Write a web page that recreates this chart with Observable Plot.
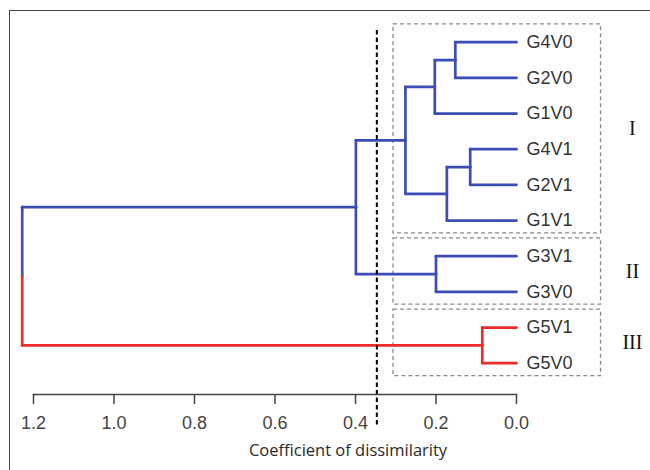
<!DOCTYPE html>
<html>
<head>
<meta charset="utf-8">
<script src="https://cdn.jsdelivr.net/npm/d3@7"></script>
<script src="https://cdn.jsdelivr.net/npm/@observablehq/plot@0.6"></script>
<style>
  html, body { margin: 0; padding: 0; background: #fff; }
  #wrap { position: relative; width: 650px; height: 470px; overflow: hidden; }
  #border { position: absolute; left: 9px; top: 10px; width: 700px; height: 500px;
            border-left: 1.5px solid #444; border-top: 1.5px solid #444; }
  #chart { position: absolute; left: 0; top: 0; }
</style>
</head>
<body>
<div id="wrap"><div id="border"></div><div id="chart"></div></div>
<script>
// ---- data ----
const leaves = ["G4V0", "G2V0", "G1V0", "G4V1", "G2V1", "G1V1", "G3V1", "G3V0", "G5V1", "G5V0"];
// agglomeration steps: mergeA + mergeB joined at mergeHeight (m# = result of step #)
const mergeA = ["G4V0", "m1", "G4V1", "m3", "m2", "G3V1", "m5", "G5V1", "m7"];
const mergeB = ["G2V0", "G1V0", "G2V1", "G1V1", "m4", "G3V0", "m6", "G5V0", "m8"];
const mergeHeight = [0.152, 0.203, 0.115, 0.173, 0.276, 0.200, 0.399, 0.085, 1.228];
const clusters = ["I", "II", "III"];
const clusterFirst = ["G4V0", "G3V1", "G5V1"];
const clusterLast = ["G1V1", "G3V0", "G5V0"];
const clusterBranch = ["A", "A", "B"];
const cutHeight = [0.347];
const xTicks = [1.2, 1.0, 0.8, 0.6, 0.4, 0.2, 0.0];
const xTitle = ["Coefficient of dissimilarity"];

// ---- build tree geometry ----
const nodes = new Map();
leaves.forEach((name, i) => {
  const c = clusters.findIndex((_, k) => i >= leaves.indexOf(clusterFirst[k]) && i <= leaves.indexOf(clusterLast[k]));
  nodes.set(name, {y: i, h: 0, g: clusterBranch[c]});
});
const segs = [];
mergeA.forEach((an, i) => {
  const a = nodes.get(an), b = nodes.get(mergeB[i]);
  const h = mergeHeight[i], y = (a.y + b.y) / 2;
  segs.push({x1: a.h, x2: h, y1: a.y, y2: a.y, g: a.g});
  segs.push({x1: b.h, x2: h, y1: b.y, y2: b.y, g: b.g});
  segs.push({x1: h, x2: h, y1: a.y, y2: y, g: a.g});
  segs.push({x1: h, x2: h, y1: y, y2: b.y, g: b.g});
  nodes.set("m" + (i + 1), {y, h, g: a.g === b.g ? a.g : null});
});
const boxes = clusters.map((c, k) => ({
  name: c,
  first: leaves.indexOf(clusterFirst[k]),
  last: leaves.indexOf(clusterLast[k])
}));

const chart = Plot.plot({
  width: 650,
  height: 470,
  marginLeft: 33,
  marginRight: 134,
  marginTop: 20,
  marginBottom: 76,
  style: {background: "transparent"},
  x: {domain: [1.2, 0], axis: null},
  y: {domain: [0, 9], range: [41.7, 362.7], axis: null},
  color: {domain: ["A", "B"], range: ["#3c4db5", "#ee2b2b"]},
  marks: [
    Plot.rect(boxes, {
      x1: () => 0.3056, x2: () => -0.21,
      y1: d => d.first - 0.5, y2: d => d.last + 0.36,
      fill: "none", stroke: "#8a8a8a", strokeWidth: 1.3, strokeDasharray: "4,3"
    }),
    Plot.link(segs, {
      x1: "x1", x2: "x2", y1: "y1", y2: "y2", stroke: "g",
      strokeWidth: 2.7, strokeLinecap: "round"
    }),
    Plot.ruleX(cutHeight, {
      y1: () => -0.33, y2: () => 10.75,
      stroke: "#000", strokeWidth: 2, strokeDasharray: "4.5,3"
    }),
    Plot.text(leaves, {
      x: () => 0, y: (d, i) => i, text: d => d, dx: 10,
      textAnchor: "start", lineAnchor: "middle",
      fontSize: 18, fontFamily: "Liberation Sans, Arial, sans-serif", fill: "#333"
    }),
    Plot.text(boxes, {
      x: () => -0.288, y: d => (d.first - 0.5 + d.last + 0.36) / 2, text: "name",
      textAnchor: "middle", lineAnchor: "middle",
      fontSize: 20, fontFamily: "Liberation Serif, Times New Roman, serif", fill: "#111"
    }),
    Plot.frame({anchor: "bottom", stroke: "#444", strokeWidth: 1.5}),
    Plot.axisX(xTicks, {
      anchor: "bottom", tickSize: 10, tickPadding: 12, tickFormat: d3.format(".1f"),
      fontSize: 18, fontFamily: "Liberation Sans, Arial, sans-serif", color: "#444",
      strokeWidth: 1.5, label: null
    }),
    Plot.text(xTitle, {
      frameAnchor: "bottom", dy: 61, dx: 73, text: d => d,
      fontSize: 16.5, fontFamily: "Open Sans, sans-serif", fill: "#2a2a2a"
    })
  ]
});
document.getElementById("chart").appendChild(chart);
</script>
</body>
</html>
